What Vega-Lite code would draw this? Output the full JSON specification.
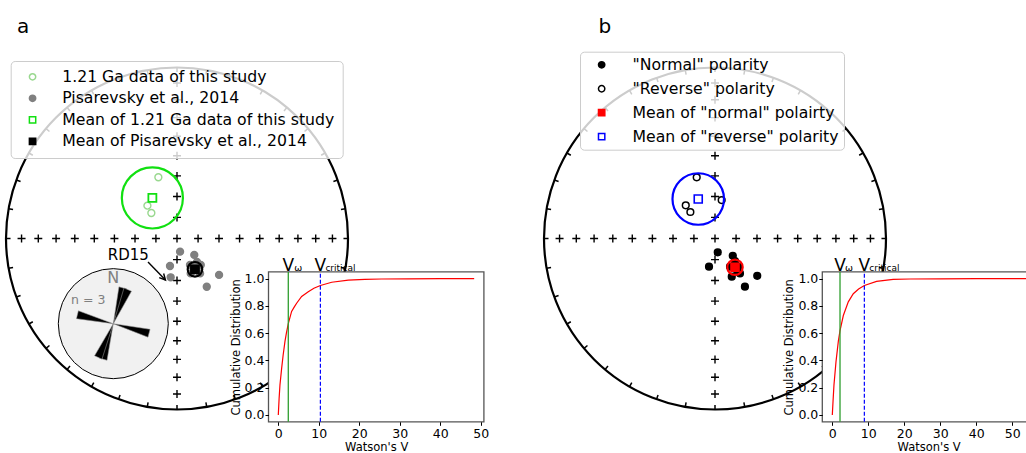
{
"$schema":"https://vega.github.io/schema/vega-lite/v6.json",
"width":1026,"height":453,"autosize":{"type":"none"},"padding":0,"background":"white",
"config":{"view":{"stroke":null},"font":"DejaVu Sans","axis":{"labelFont":"DejaVu Sans","titleFont":"DejaVu Sans"},"legend":{"labelFont":"DejaVu Sans"},"text":{"font":"DejaVu Sans"}},
"datasets":{
"cross":[{"x":0,"y":0},
{"x":0,"y":0.90904},{"x":0,"y":0.81116},{"x":0,"y":0.70711},{"x":0,"y":0.59767},{"x":0,"y":0.48369},{"x":0,"y":0.36603},{"x":0,"y":0.24558},{"x":0,"y":0.12326},
{"x":0,"y":-0.90904},{"x":0,"y":-0.81116},{"x":0,"y":-0.70711},{"x":0,"y":-0.59767},{"x":0,"y":-0.48369},{"x":0,"y":-0.36603},{"x":0,"y":-0.24558},{"x":0,"y":-0.12326},
{"x":0.90904,"y":0},{"x":0.81116,"y":0},{"x":0.70711,"y":0},{"x":0.59767,"y":0},{"x":0.48369,"y":0},{"x":0.36603,"y":0},{"x":0.24558,"y":0},{"x":0.12326,"y":0},
{"x":-0.90904,"y":0},{"x":-0.81116,"y":0},{"x":-0.70711,"y":0},{"x":-0.59767,"y":0},{"x":-0.48369,"y":0},{"x":-0.36603,"y":0},{"x":-0.24558,"y":0},{"x":-0.12326,"y":0}],
"ticks":[
{"x":0,"y":1,"x2":0,"y2":0.97348},
{"x":0.17365,"y":0.98481,"x2":0.16905,"y2":0.95869},
{"x":0.34202,"y":0.93969,"x2":0.33295,"y2":0.91477},
{"x":0.5,"y":0.86603,"x2":0.48674,"y2":0.84306},
{"x":0.64279,"y":0.76604,"x2":0.62574,"y2":0.74572},
{"x":0.76604,"y":0.64279,"x2":0.74572,"y2":0.62574},
{"x":0.86603,"y":0.5,"x2":0.84306,"y2":0.48674},
{"x":0.93969,"y":0.34202,"x2":0.91477,"y2":0.33295},
{"x":0.98481,"y":0.17365,"x2":0.95869,"y2":0.16905},
{"x":1,"y":0,"x2":0.97348,"y2":0},
{"x":0.98481,"y":-0.17365,"x2":0.95869,"y2":-0.16905},
{"x":0.93969,"y":-0.34202,"x2":0.91477,"y2":-0.33295},
{"x":0.86603,"y":-0.5,"x2":0.84306,"y2":-0.48674},
{"x":0.76604,"y":-0.64279,"x2":0.74572,"y2":-0.62574},
{"x":0.64279,"y":-0.76604,"x2":0.62574,"y2":-0.74572},
{"x":0.5,"y":-0.86603,"x2":0.48674,"y2":-0.84306},
{"x":0.34202,"y":-0.93969,"x2":0.33295,"y2":-0.91477},
{"x":0.17365,"y":-0.98481,"x2":0.16905,"y2":-0.95869},
{"x":0,"y":-1,"x2":0,"y2":-0.97348},
{"x":-0.17365,"y":-0.98481,"x2":-0.16905,"y2":-0.95869},
{"x":-0.34202,"y":-0.93969,"x2":-0.33295,"y2":-0.91477},
{"x":-0.5,"y":-0.86603,"x2":-0.48674,"y2":-0.84306},
{"x":-0.64279,"y":-0.76604,"x2":-0.62574,"y2":-0.74572},
{"x":-0.76604,"y":-0.64279,"x2":-0.74572,"y2":-0.62574},
{"x":-0.86603,"y":-0.5,"x2":-0.84306,"y2":-0.48674},
{"x":-0.93969,"y":-0.34202,"x2":-0.91477,"y2":-0.33295},
{"x":-0.98481,"y":-0.17365,"x2":-0.95869,"y2":-0.16905},
{"x":-1,"y":0,"x2":-0.97348,"y2":0},
{"x":-0.98481,"y":0.17365,"x2":-0.95869,"y2":0.16905},
{"x":-0.93969,"y":0.34202,"x2":-0.91477,"y2":0.33295},
{"x":-0.86603,"y":0.5,"x2":-0.84306,"y2":0.48674},
{"x":-0.76604,"y":0.64279,"x2":-0.74572,"y2":0.62574},
{"x":-0.64279,"y":0.76604,"x2":-0.62574,"y2":0.74572},
{"x":-0.5,"y":0.86603,"x2":-0.48674,"y2":0.84306},
{"x":-0.34202,"y":0.93969,"x2":-0.33295,"y2":0.91477},
{"x":-0.17365,"y":0.98481,"x2":-0.16905,"y2":0.95869}],
"ptsA":[
{"series":"1.21 Ga data of this study","kind":"pt","x":-0.109,"y":0.358},
{"series":"1.21 Ga data of this study","kind":"pt","x":-0.173,"y":0.192},
{"series":"1.21 Ga data of this study","kind":"pt","x":-0.150,"y":0.149},
{"series":"Pisarevsky et al., 2014","kind":"pt","x":0.018,"y":-0.077},
{"series":"Pisarevsky et al., 2014","kind":"pt","x":-0.041,"y":-0.161},
{"series":"Pisarevsky et al., 2014","kind":"pt","x":-0.037,"y":-0.227},
{"series":"Pisarevsky et al., 2014","kind":"pt","x":0.101,"y":-0.096},
{"series":"Pisarevsky et al., 2014","kind":"pt","x":0.246,"y":-0.213},
{"series":"Pisarevsky et al., 2014","kind":"pt","x":0.174,"y":-0.282},
{"series":"Pisarevsky et al., 2014","kind":"pt","x":0.080,"y":-0.204},
{"series":"Pisarevsky et al., 2014","kind":"pt","x":0.139,"y":-0.155},
{"series":"Pisarevsky et al., 2014","kind":"pt","x":0.135,"y":-0.204},
{"series":"Pisarevsky et al., 2014","kind":"pt","x":0.076,"y":-0.155},
{"series":"Pisarevsky et al., 2014","kind":"pt","x":0.117,"y":-0.137},
{"series":"Mean of 1.21 Ga data of this study","kind":"mean","x":-0.144,"y":0.237,"a95":14.7},
{"series":"Mean of Pisarevsky et al., 2014","kind":"mean","x":0.105,"y":-0.180,"a95":3.5}],
"ptsB":[
{"series":"\"Normal\" polarity","kind":"pt","x":0.016,"y":-0.081},
{"series":"\"Normal\" polarity","kind":"pt","x":-0.035,"y":-0.165},
{"series":"\"Normal\" polarity","kind":"pt","x":0.104,"y":-0.101},
{"series":"\"Normal\" polarity","kind":"pt","x":0.146,"y":-0.204},
{"series":"\"Normal\" polarity","kind":"pt","x":0.098,"y":-0.223},
{"series":"\"Normal\" polarity","kind":"pt","x":0.247,"y":-0.218},
{"series":"\"Normal\" polarity","kind":"pt","x":0.175,"y":-0.282},
{"series":"\"Normal\" polarity","kind":"pt","x":0.088,"y":-0.165},
{"series":"\"Normal\" polarity","kind":"pt","x":0.136,"y":-0.165},
{"series":"\"Normal\" polarity","kind":"pt","x":0.117,"y":-0.132},
{"series":"\"Normal\" polarity","kind":"pt","x":0.13,"y":-0.19},
{"series":"\"Reverse\" polarity","kind":"pt","x":-0.107,"y":0.358},
{"series":"\"Reverse\" polarity","kind":"pt","x":0.039,"y":0.225},
{"series":"\"Reverse\" polarity","kind":"pt","x":-0.171,"y":0.194},
{"series":"\"Reverse\" polarity","kind":"pt","x":-0.144,"y":0.155},
{"series":"Mean of \"normal\" polairty","kind":"mean","x":0.117,"y":-0.168,"a95":3.7},
{"series":"Mean of \"reverse\" polarity","kind":"mean","x":-0.098,"y":0.231,"a95":12.4}],
"cdfA":[{"V":0,"C":0},{"V":0.2,"C":0.12},{"V":0.41,"C":0.22},{"V":0.82,"C":0.34},{"V":1.2,"C":0.44},{"V":1.65,"C":0.54},{"V":2.0,"C":0.6},{"V":2.47,"C":0.67},{"V":3.29,"C":0.76},{"V":4.0,"C":0.795},{"V":4.53,"C":0.82},{"V":5.77,"C":0.87},{"V":7.41,"C":0.905},{"V":8.8,"C":0.93},{"V":10.4,"C":0.95},{"V":13.2,"C":0.974},{"V":17.3,"C":0.99},{"V":21.4,"C":0.995},{"V":25.5,"C":0.998},{"V":32,"C":0.999},{"V":40,"C":1.0},{"V":48.4,"C":1.0}],
"cdfB":[{"V":0,"C":0},{"V":0.2,"C":0.1},{"V":0.46,"C":0.22},{"V":1.02,"C":0.39},{"V":1.67,"C":0.54},{"V":2.14,"C":0.62},{"V":3.06,"C":0.73},{"V":4.44,"C":0.83},{"V":5.83,"C":0.89},{"V":7.3,"C":0.925},{"V":8.9,"C":0.95},{"V":12.3,"C":0.98},{"V":16.9,"C":0.995},{"V":21.6,"C":0.998},{"V":30,"C":0.999},{"V":40,"C":1.0},{"V":55.6,"C":1.0}],
"petals":[{"az":15},{"az":23},{"az":196},{"az":204},{"az":284},{"az":105}]
},
"layer":[
{
"layer":[
{"data":{"values":[{}]},"mark":{"type":"point","shape":"circle","size":116964,"filled":false,"stroke":"black","strokeWidth":2.2,"opacity":1},
 "encoding":{"x":{"datum":0,"type":"quantitative","scale":{"domain":[-1,1],"range":[6,348],"nice":false,"zero":false},"axis":null},
             "y":{"datum":0,"type":"quantitative","scale":{"domain":[-1,1],"range":[409.5,67.5],"nice":false,"zero":false},"axis":null}}},
{"data":{"name":"ticks"},"mark":{"type":"rule","stroke":"black","strokeWidth":1.5},
 "encoding":{"x":{"field":"x","type":"quantitative","axis":null},"y":{"field":"y","type":"quantitative","axis":null},"x2":{"field":"x2"},"y2":{"field":"y2"}}},
{"data":{"name":"cross"},"mark":{"type":"point","shape":"M-1,0L1,0M0,-1L0,1","size":64,"filled":false,"stroke":"black","strokeWidth":1.4,"opacity":1},
 "encoding":{"x":{"field":"x","type":"quantitative","axis":null},"y":{"field":"y","type":"quantitative","axis":null}}},
{"data":{"values":[{}]},"mark":{"type":"point","shape":"circle","size":12100,"fill":"#f1f1f1","stroke":"black","strokeWidth":1,"opacity":1,"filled":true},
 "encoding":{"x":{"datum":-0.3725,"axis":null},"y":{"datum":-0.498,"axis":null}}},
{"data":{"name":"petals"},"mark":{"type":"point","shape":"M0,0L-0.11,-1L0.11,-1Z","size":5476,"filled":true,"fill":"black","stroke":"#999999","strokeWidth":0.5,"opacity":1},
 "encoding":{"x":{"datum":-0.3725,"axis":null},"y":{"datum":-0.498,"axis":null},"angle":{"field":"az","type":"quantitative","scale":null}}},
{"data":{"values":[{}]},"mark":{"type":"text","text":"N","fontSize":16,"fill":"#808080","align":"center","baseline":"middle"},
 "encoding":{"x":{"datum":-0.3725,"axis":null},"y":{"datum":-0.229,"axis":null}}},
{"data":{"values":[{}]},"mark":{"type":"text","text":"n = 3","fontSize":12.5,"fill":"#808080","align":"center","baseline":"middle"},
 "encoding":{"x":{"datum":-0.519,"axis":null},"y":{"datum":-0.36,"axis":null}}},
{"data":{"values":[{}]},"mark":{"type":"text","text":"RD15","fontSize":15,"fill":"black","align":"center","baseline":"middle"},
 "encoding":{"x":{"datum":-0.285,"axis":null},"y":{"datum":-0.0965,"axis":null}}},
{"data":{"values":[{}]},"mark":{"type":"rule","stroke":"black","strokeWidth":1.4},
 "encoding":{"x":{"datum":-0.1696,"axis":null},"y":{"datum":-0.1374,"axis":null},"x2":{"datum":-0.0673},"y2":{"datum":-0.2427}}},
{"data":{"values":[{}]},"mark":{"type":"point","shape":"M-0.5,1L0,0L0.5,1","size":144,"angle":137.5,"filled":false,"stroke":"black","strokeWidth":1.4,"opacity":1},
 "encoding":{"x":{"datum":-0.0673,"axis":null},"y":{"datum":-0.2427,"axis":null}}},
{"data":{"name":"ptsA"},"transform":[{"filter":"datum.kind == 'pt'"}],"mark":{"type":"point","size":48,"strokeWidth":1.4,"opacity":1},
 "encoding":{"x":{"field":"x","type":"quantitative","axis":null},"y":{"field":"y","type":"quantitative","axis":null},
  "shape":{"field":"series","type":"nominal","scale":{"domain":["1.21 Ga data of this study","Pisarevsky et al., 2014","Mean of 1.21 Ga data of this study","Mean of Pisarevsky et al., 2014"],"range":["circle","circle","square","square"]},
   "legend":{"orient":"none","legendX":10.7,"legendY":61,"title":null,"direction":"vertical","padding":8,"rowPadding":4.5,"symbolSize":40,"symbolStrokeWidth":1.5,"symbolOffset":6,"labelOffset":21.8,"labelFontSize":15.7,"labelLimit":600,"labelColor":"black","fillColor":"rgba(255,255,255,0.8)","strokeColor":"#cccccc","cornerRadius":4}},
  "fill":{"field":"series","type":"nominal","scale":{"domain":["1.21 Ga data of this study","Pisarevsky et al., 2014","Mean of 1.21 Ga data of this study","Mean of Pisarevsky et al., 2014"],"range":["transparent","#808080","transparent","#000000"]},
   "legend":{"orient":"none","legendX":10.7,"legendY":61,"title":null,"direction":"vertical","padding":8,"rowPadding":4.5,"symbolSize":40,"symbolStrokeWidth":1.5,"symbolOffset":6,"labelOffset":21.8,"labelFontSize":15.7,"labelLimit":600,"labelColor":"black","fillColor":"rgba(255,255,255,0.8)","strokeColor":"#cccccc","cornerRadius":4}},
  "stroke":{"field":"series","type":"nominal","scale":{"domain":["1.21 Ga data of this study","Pisarevsky et al., 2014","Mean of 1.21 Ga data of this study","Mean of Pisarevsky et al., 2014"],"range":["#99d88f","#808080","#11e011","#000000"]},
   "legend":{"orient":"none","legendX":10.7,"legendY":61,"title":null,"direction":"vertical","padding":8,"rowPadding":4.5,"symbolSize":40,"symbolStrokeWidth":1.5,"symbolOffset":6,"labelOffset":21.8,"labelFontSize":15.7,"labelLimit":600,"labelColor":"black","fillColor":"rgba(255,255,255,0.8)","strokeColor":"#cccccc","cornerRadius":4}}}},
{"data":{"name":"ptsA"},"transform":[{"filter":"datum.kind == 'mean'"}],"mark":{"type":"point","size":64,"strokeWidth":1.8,"opacity":1},
 "encoding":{"x":{"field":"x","type":"quantitative","axis":null},"y":{"field":"y","type":"quantitative","axis":null},
  "shape":{"field":"series","type":"nominal"},"fill":{"field":"series","type":"nominal"},"stroke":{"field":"series","type":"nominal"}}},
{"data":{"name":"ptsA"},"transform":[{"filter":"datum.kind == 'mean'"}],"mark":{"type":"point","shape":"circle","filled":false,"strokeWidth":2.2,"opacity":1},
 "encoding":{"x":{"field":"x","type":"quantitative","axis":null},"y":{"field":"y","type":"quantitative","axis":null},
  "stroke":{"field":"series","type":"nominal"},
  "size":{"field":"a95","type":"quantitative","scale":{"type":"pow","exponent":2,"domain":[0,20],"range":[0,6905]},"legend":null}}},
{"data":{"values":[{}]},"mark":{"type":"text","text":"a","fontSize":20,"fill":"black","align":"left","baseline":"alphabetic"},
 "encoding":{"x":{"datum":-0.936,"axis":null},"y":{"datum":1.2,"axis":null}}}
]
},
{
"layer":[
{"data":{"values":[{}]},"mark":{"type":"rect","fill":"white","stroke":"#555555","strokeWidth":1.3},
 "encoding":{
  "x":{"datum":-2.42,"type":"quantitative","scale":{"domain":[-2.42,50.8],"range":[268.5,483.9],"nice":false,"zero":false},
   "axis":{"orient":"bottom","offset":-31.2,"values":[0,10,20,30,40,50],"format":"d","title":"Watson's V","titleFontSize":11.5,"titleFontWeight":"normal","titleColor":"black","titlePadding":2,"labelFontSize":12.5,"labelColor":"black","labelPadding":2,"tickSize":3.5,"tickColor":"black","domain":false,"grid":false,"zindex":1,"labelFlush":false,"labelOverlap":false}},
  "x2":{"datum":50.8},
  "y":{"datum":-0.05,"type":"quantitative","scale":{"domain":[-0.05,1.05],"range":[421.8,271.9],"nice":false,"zero":false},
   "axis":{"orient":"left","offset":-268.5,"values":[0,0.2,0.4,0.6,0.8,1.0],"format":".1f","title":"Cumulative Distribution","titleFontSize":11.5,"titleFontWeight":"normal","titleColor":"black","titlePadding":3,"labelFontSize":12.5,"labelColor":"black","labelPadding":1,"tickSize":3.5,"tickColor":"black","domain":false,"grid":false,"zindex":1,"labelFlush":false,"labelOverlap":false}},
  "y2":{"datum":1.05}}},
{"data":{"name":"cdfA"},"mark":{"type":"line","stroke":"red","strokeWidth":1.2},
 "encoding":{"x":{"field":"V","type":"quantitative"},"y":{"field":"C","type":"quantitative"}}},
{"data":{"values":[{}]},"mark":{"type":"rule","stroke":"#2e9e2e","strokeWidth":1.3},
 "encoding":{"x":{"datum":2.47},"y":{"datum":-0.05},"y2":{"datum":1.05}}},
{"data":{"values":[{}]},"mark":{"type":"rule","stroke":"blue","strokeWidth":1.2,"strokeDash":[4,2]},
 "encoding":{"x":{"datum":10.4},"y":{"datum":-0.05},"y2":{"datum":1.05}}},
{"data":{"values":[{}]},"mark":{"type":"text","text":"V","fontSize":17,"align":"center","baseline":"alphabetic","dy":-1,"fill":"black"},
 "encoding":{"x":{"datum":2.47},"y":{"datum":1.05}}},
{"data":{"values":[{}]},"mark":{"type":"text","text":"ω","fontSize":9.5,"align":"left","baseline":"alphabetic","dx":6,"dy":-1,"fill":"black"},
 "encoding":{"x":{"datum":2.47},"y":{"datum":1.05}}},
{"data":{"values":[{}]},"mark":{"type":"text","text":"V","fontSize":17,"align":"center","baseline":"alphabetic","dy":-1,"fill":"black"},
 "encoding":{"x":{"datum":10.4},"y":{"datum":1.05}}},
{"data":{"values":[{}]},"mark":{"type":"text","text":"critical","fontSize":9,"align":"left","baseline":"alphabetic","dx":5,"dy":-1,"fill":"black"},
 "encoding":{"x":{"datum":10.4},"y":{"datum":1.05}}}
]
},
{
"layer":[
{"data":{"values":[{}]},"mark":{"type":"point","shape":"circle","size":116964,"filled":false,"stroke":"black","strokeWidth":2.2,"opacity":1},
 "encoding":{"x":{"datum":0,"type":"quantitative","scale":{"domain":[-1,1],"range":[544,886],"nice":false,"zero":false},"axis":null},
             "y":{"datum":0,"type":"quantitative","scale":{"domain":[-1,1],"range":[409.5,67.5],"nice":false,"zero":false},"axis":null}}},
{"data":{"name":"ticks"},"mark":{"type":"rule","stroke":"black","strokeWidth":1.5},
 "encoding":{"x":{"field":"x","type":"quantitative","axis":null},"y":{"field":"y","type":"quantitative","axis":null},"x2":{"field":"x2"},"y2":{"field":"y2"}}},
{"data":{"name":"cross"},"mark":{"type":"point","shape":"M-1,0L1,0M0,-1L0,1","size":64,"filled":false,"stroke":"black","strokeWidth":1.4,"opacity":1},
 "encoding":{"x":{"field":"x","type":"quantitative","axis":null},"y":{"field":"y","type":"quantitative","axis":null}}},
{"data":{"name":"ptsB"},"transform":[{"filter":"datum.kind == 'pt'"}],"mark":{"type":"point","size":45,"strokeWidth":1.5,"opacity":1},
 "encoding":{"x":{"field":"x","type":"quantitative","axis":null},"y":{"field":"y","type":"quantitative","axis":null},
  "shape":{"field":"series","type":"nominal","scale":{"domain":["\"Normal\" polarity","\"Reverse\" polarity","Mean of \"normal\" polairty","Mean of \"reverse\" polarity"],"range":["circle","circle","square","square"]},
   "legend":{"orient":"none","legendX":580,"legendY":51.7,"title":null,"direction":"vertical","padding":5.3,"rowPadding":6.9,"symbolSize":40,"symbolStrokeWidth":1.5,"symbolOffset":8.5,"labelOffset":23,"labelFontSize":15.7,"labelLimit":600,"labelColor":"black","fillColor":"rgba(255,255,255,0.8)","strokeColor":"#cccccc","cornerRadius":4}},
  "fill":{"field":"series","type":"nominal","scale":{"domain":["\"Normal\" polarity","\"Reverse\" polarity","Mean of \"normal\" polairty","Mean of \"reverse\" polarity"],"range":["#000000","transparent","#ff0000","transparent"]},
   "legend":{"orient":"none","legendX":580,"legendY":51.7,"title":null,"direction":"vertical","padding":5.3,"rowPadding":6.9,"symbolSize":40,"symbolStrokeWidth":1.5,"symbolOffset":8.5,"labelOffset":23,"labelFontSize":15.7,"labelLimit":600,"labelColor":"black","fillColor":"rgba(255,255,255,0.8)","strokeColor":"#cccccc","cornerRadius":4}},
  "stroke":{"field":"series","type":"nominal","scale":{"domain":["\"Normal\" polarity","\"Reverse\" polarity","Mean of \"normal\" polairty","Mean of \"reverse\" polarity"],"range":["#000000","#000000","#ff0000","#0000ff"]},
   "legend":{"orient":"none","legendX":580,"legendY":51.7,"title":null,"direction":"vertical","padding":5.3,"rowPadding":6.9,"symbolSize":40,"symbolStrokeWidth":1.5,"symbolOffset":8.5,"labelOffset":23,"labelFontSize":15.7,"labelLimit":600,"labelColor":"black","fillColor":"rgba(255,255,255,0.8)","strokeColor":"#cccccc","cornerRadius":4}}}},
{"data":{"name":"ptsB"},"transform":[{"filter":"datum.kind == 'mean'"}],"mark":{"type":"point","size":64,"strokeWidth":1.6,"opacity":1},
 "encoding":{"x":{"field":"x","type":"quantitative","axis":null},"y":{"field":"y","type":"quantitative","axis":null},
  "shape":{"field":"series","type":"nominal"},"fill":{"field":"series","type":"nominal"},"stroke":{"field":"series","type":"nominal"}}},
{"data":{"name":"ptsB"},"transform":[{"filter":"datum.kind == 'mean'"}],"mark":{"type":"point","shape":"circle","filled":false,"strokeWidth":2.2,"opacity":1},
 "encoding":{"x":{"field":"x","type":"quantitative","axis":null},"y":{"field":"y","type":"quantitative","axis":null},
  "stroke":{"field":"series","type":"nominal"},
  "size":{"field":"a95","type":"quantitative","scale":{"type":"pow","exponent":2,"domain":[0,20],"range":[0,6905]},"legend":null}}},
{"data":{"values":[{}]},"mark":{"type":"text","text":"b","fontSize":20,"fill":"black","align":"left","baseline":"alphabetic"},
 "encoding":{"x":{"datum":-0.682,"axis":null},"y":{"datum":1.2,"axis":null}}}
]
},
{
"layer":[
{"data":{"values":[{}]},"mark":{"type":"rect","fill":"white","stroke":"#555555","strokeWidth":1.3},
 "encoding":{
  "x":{"datum":-2.78,"type":"quantitative","scale":{"domain":[-2.78,56.3],"range":[822.3,1035],"nice":false,"zero":false},
   "axis":{"orient":"bottom","offset":-31.2,"values":[0,10,20,30,40,50],"format":"d","title":"Watson's V","titleFontSize":11.5,"titleFontWeight":"normal","titleColor":"black","titlePadding":2,"labelFontSize":12.5,"labelColor":"black","labelPadding":2,"tickSize":3.5,"tickColor":"black","domain":false,"grid":false,"zindex":1,"labelFlush":false,"labelOverlap":false}},
  "x2":{"datum":56.3},
  "y":{"datum":-0.05,"type":"quantitative","scale":{"domain":[-0.05,1.05],"range":[421.8,271.9],"nice":false,"zero":false},
   "axis":{"orient":"left","offset":-822.3,"values":[0,0.2,0.4,0.6,0.8,1.0],"format":".1f","title":"Cumulative Distribution","titleFontSize":11.5,"titleFontWeight":"normal","titleColor":"black","titlePadding":3,"labelFontSize":12.5,"labelColor":"black","labelPadding":1,"tickSize":3.5,"tickColor":"black","domain":false,"grid":false,"zindex":1,"labelFlush":false,"labelOverlap":false}},
  "y2":{"datum":1.05}}},
{"data":{"name":"cdfB"},"mark":{"type":"line","stroke":"red","strokeWidth":1.2},
 "encoding":{"x":{"field":"V","type":"quantitative"},"y":{"field":"C","type":"quantitative"}}},
{"data":{"values":[{}]},"mark":{"type":"rule","stroke":"#2e9e2e","strokeWidth":1.3},
 "encoding":{"x":{"datum":2.14},"y":{"datum":-0.05},"y2":{"datum":1.05}}},
{"data":{"values":[{}]},"mark":{"type":"rule","stroke":"blue","strokeWidth":1.2,"strokeDash":[4,2]},
 "encoding":{"x":{"datum":8.9},"y":{"datum":-0.05},"y2":{"datum":1.05}}},
{"data":{"values":[{}]},"mark":{"type":"text","text":"V","fontSize":17,"align":"center","baseline":"alphabetic","dy":-1,"fill":"black"},
 "encoding":{"x":{"datum":2.14},"y":{"datum":1.05}}},
{"data":{"values":[{}]},"mark":{"type":"text","text":"ω","fontSize":9.5,"align":"left","baseline":"alphabetic","dx":5,"dy":-1,"fill":"black"},
 "encoding":{"x":{"datum":2.14},"y":{"datum":1.05}}},
{"data":{"values":[{}]},"mark":{"type":"text","text":"V","fontSize":17,"align":"center","baseline":"alphabetic","dy":-1,"fill":"black"},
 "encoding":{"x":{"datum":8.9},"y":{"datum":1.05}}},
{"data":{"values":[{}]},"mark":{"type":"text","text":"critical","fontSize":9,"align":"left","baseline":"alphabetic","dx":5,"dy":-1,"fill":"black"},
 "encoding":{"x":{"datum":8.9},"y":{"datum":1.05}}}
]
}
],
"resolve":{"scale":{"x":"independent","y":"independent","fill":"independent","stroke":"independent","shape":"independent","size":"independent"},"legend":{"fill":"independent","stroke":"independent","shape":"independent"}}
}
